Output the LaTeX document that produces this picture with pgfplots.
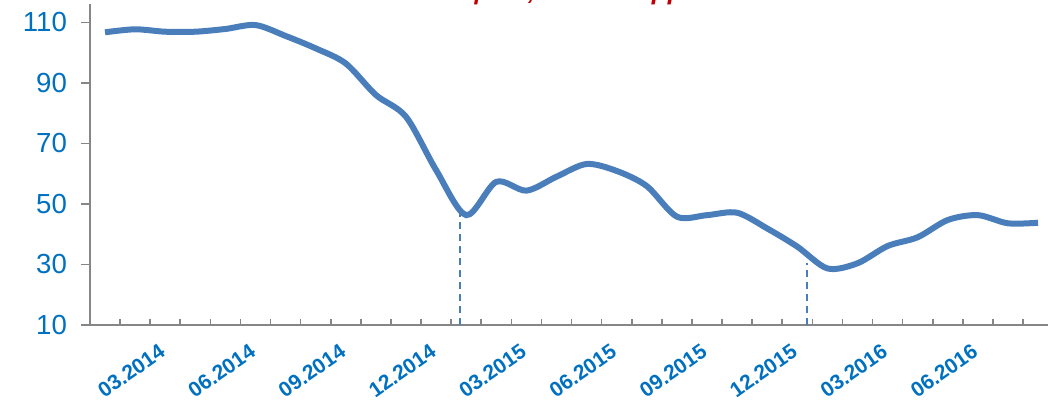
\documentclass[border=0pt]{standalone}
\usepackage{pgfplots}
\pgfplotsset{compat=1.18}
\usepackage{fontspec}
\setmainfont{Liberation Sans}

\definecolor{lineblue}{RGB}{74,126,187}
\definecolor{labelblue}{RGB}{0,112,192}
\definecolor{titlered}{RGB}{192,0,0}
\definecolor{axisgray}{RGB}{134,134,134}

\begin{document}
\begin{tikzpicture}
\begin{axis}[
    scale only axis,
    width=479pt, height=160.5pt,
    xmin=0.5, xmax=32.33,
    ymin=10, ymax=116.05,
    axis lines=left,
    axis line style={-, draw=axisgray, line width=0.8pt},
    clip=false,
    /pgf/number format/assume math mode=true,
    ytick={10,30,...,110},
    xtick={3,6,...,30},
    xticklabels={03.2014,06.2014,09.2014,12.2014,03.2015,06.2015,09.2015,12.2015,03.2016,06.2016},
    minor xtick={1.5,2.5,...,32.5},
    tick align=inside,
    major x tick style={draw=none},
    minor x tick style={draw=axisgray, line width=0.8pt},
    minor tick length=3pt,
    major tick length=4.5pt,
    major y tick style={draw=axisgray, line width=0.8pt, xshift=-4.5pt},
    yticklabel style={font=\fontsize{13.8}{14}\selectfont, text=labelblue, xshift=-8pt},
    xticklabel style={xshift=1.5pt, yshift=-10pt, rotate=35, anchor=east, font=\bfseries\fontsize{10.5}{11}\selectfont, text=labelblue},
]
% dashed markers
\addplot[lineblue, line width=0.7pt, dash pattern=on 3.5pt off 2.5pt] coordinates {(12.79,10) (12.79,49.6)};
\addplot[lineblue, line width=0.7pt, dash pattern=on 3.5pt off 2.5pt] coordinates {(24.32,10) (24.32,30.6)};

% monthly series, 01.2014 .. 08.2016
\addplot[lineblue, line width=3pt, smooth, tension=0.5] coordinates {
(1,106.7) (2,107.7) (3,106.9) (4,106.9) (5,107.8) (6,109.1) (7,105.5) (8,101.4)
(9,96.4) (10,86.0) (11,78.8) (12,61.2) (13,46.3) (14,57.3) (15,54.4) (16,59.0)
(17,63.2) (18,60.9) (19,55.9) (20,45.8) (21,46.3) (22,47.1) (23,41.9) (24,35.9)
(25,28.7) (26,30.4) (27,36.1) (28,39.0) (29,44.7) (30,46.3) (31,43.6) (32,43.8)
};

\node[anchor=base, font=\bfseries\itshape\fontsize{13}{14}\selectfont, text=titlered]
    at (rel axis cs:0.4927,1.0140) {Нефть, долл./барр.};

\coordinate (bb1) at (rel axis cs:-0.0939,-0.2461);
\coordinate (bb2) at (rel axis cs:1,1.01246);
\end{axis}
\pgfresetboundingbox
\path[use as bounding box] (bb1) rectangle (bb2);
\end{tikzpicture}
\end{document}
